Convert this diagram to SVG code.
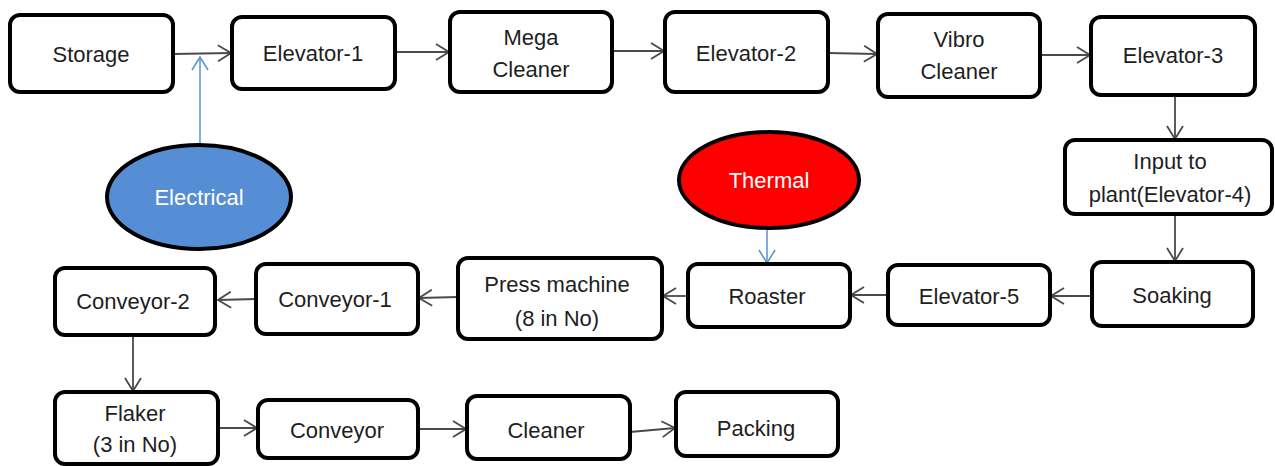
<svg xmlns="http://www.w3.org/2000/svg" width="1275" height="466" viewBox="0 0 1275 466">
<defs>
<style>
.box{fill:#fff;stroke:#000;stroke-width:4}
.t{font-family:"Liberation Sans",Arial,sans-serif;font-size:22px;fill:#1e1e1e;text-anchor:middle;dominant-baseline:central}
.w{fill:#fff}
.c{stroke:#4a4a4a;stroke-width:1.8;fill:none;marker-end:url(#a)}
.b{stroke:#5b8fd0;stroke-width:1.5;fill:none;marker-end:url(#ab)}
.el{stroke:#000;stroke-width:4}
</style>
<marker id="a" viewBox="0 0 15 18" refX="14" refY="9" markerWidth="15" markerHeight="18" markerUnits="userSpaceOnUse" orient="auto"><path d="M1,1 L14,9 L1,17" fill="none" stroke="#4a4a4a" stroke-width="1.8"/></marker>
<marker id="ab" viewBox="0 0 15 18" refX="14" refY="9" markerWidth="15" markerHeight="18" markerUnits="userSpaceOnUse" orient="auto"><path d="M1,1 L14,9 L1,17" fill="none" stroke="#5b8fd0" stroke-width="1.5"/></marker>
</defs>
<rect width="1275" height="466" fill="#fff"/>
<g id="connectors">
<path class="c" d="M173,54 L231,53"/>
<path class="c" d="M395,52 L449,52"/>
<path class="c" d="M612,51 L664,51"/>
<path class="c" d="M828,53 L877,54"/>
<path class="c" d="M1040,55 L1090,55"/>
<path class="c" d="M1175,95 L1175,139"/>
<path class="c" d="M1175,214 L1175,261"/>
<path class="c" d="M1092,296 L1051,296"/>
<path class="c" d="M888,295 L851,295"/>
<path class="c" d="M688,296 L663,296"/>
<path class="c" d="M458,297 L419,298"/>
<path class="c" d="M256,299 L218,300"/>
<path class="c" d="M133,335 L133,391"/>
<path class="c" d="M218,428 L257,428"/>
<path class="c" d="M418,429 L466,429"/>
<path class="c" d="M630,432 L675,428"/>
<path class="b" d="M200,145 L200,57"/>
<path class="b" d="M767,228 L767,263"/>
</g>
<g id="storage"><rect class="box" x="10" y="15" width="163" height="77" rx="10"/><text class="t" x="91" y="54">Storage</text></g>
<g id="elevator1"><rect class="box" x="232" y="17" width="163" height="72" rx="10"/><text class="t" x="313" y="53">Elevator-1</text></g>
<g id="mega"><rect class="box" x="450" y="12" width="162" height="80" rx="10"/><text class="t" x="531" y="37">Mega</text><text class="t" x="531" y="69">Cleaner</text></g>
<g id="elevator2"><rect class="box" x="665" y="12" width="163" height="80" rx="10"/><text class="t" x="746" y="53">Elevator-2</text></g>
<g id="vibro"><rect class="box" x="878" y="14" width="162" height="83" rx="10"/><text class="t" x="959" y="39">Vibro</text><text class="t" x="959" y="71">Cleaner</text></g>
<g id="elevator3"><rect class="box" x="1091" y="17" width="164" height="78" rx="10"/><text class="t" x="1173" y="55">Elevator-3</text></g>
<g id="input"><rect class="box" x="1065" y="140" width="207" height="74" rx="10"/><text class="t" x="1170" y="161">Input to</text><text class="t" x="1170" y="194">plant(Elevator-4)</text></g>
<g id="soaking"><rect class="box" x="1092" y="262" width="161" height="64" rx="10"/><text class="t" x="1172" y="295">Soaking</text></g>
<g id="elevator5"><rect class="box" x="888" y="265" width="162" height="60" rx="10"/><text class="t" x="969" y="296">Elevator-5</text></g>
<g id="roaster"><rect class="box" x="688" y="264" width="162" height="63" rx="10"/><text class="t" x="767" y="296">Roaster</text></g>
<g id="press"><rect class="box" x="458" y="258" width="204" height="81" rx="10"/><text class="t" x="557" y="284">Press machine</text><text class="t" x="557" y="318">(8 in No)</text></g>
<g id="conveyor1"><rect class="box" x="256" y="264" width="162" height="70" rx="10"/><text class="t" x="335" y="299">Conveyor-1</text></g>
<g id="conveyor2"><rect class="box" x="55" y="268" width="160" height="67" rx="10"/><text class="t" x="133" y="301">Conveyor-2</text></g>
<g id="flaker"><rect class="box" x="55" y="392" width="163" height="72" rx="10"/><text class="t" x="135" y="413">Flaker</text><text class="t" x="135" y="444">(3 in No)</text></g>
<g id="conveyor"><rect class="box" x="258" y="400" width="160" height="58" rx="10"/><text class="t" x="337" y="430">Conveyor</text></g>
<g id="cleaner"><rect class="box" x="467" y="396" width="163" height="63" rx="10"/><text class="t" x="546" y="430">Cleaner</text></g>
<g id="packing"><rect class="box" x="676" y="392" width="162" height="64" rx="10"/><text class="t" x="756" y="428">Packing</text></g>
<g id="electrical"><ellipse class="el" cx="199" cy="197" rx="92" ry="52" fill="#558ed5"/><text class="t w" x="199" y="197">Electrical</text></g>
<g id="thermal"><ellipse class="el" cx="769" cy="180" rx="90" ry="48" fill="#ff0000"/><text class="t w" x="769" y="180">Thermal</text></g>
</svg>
